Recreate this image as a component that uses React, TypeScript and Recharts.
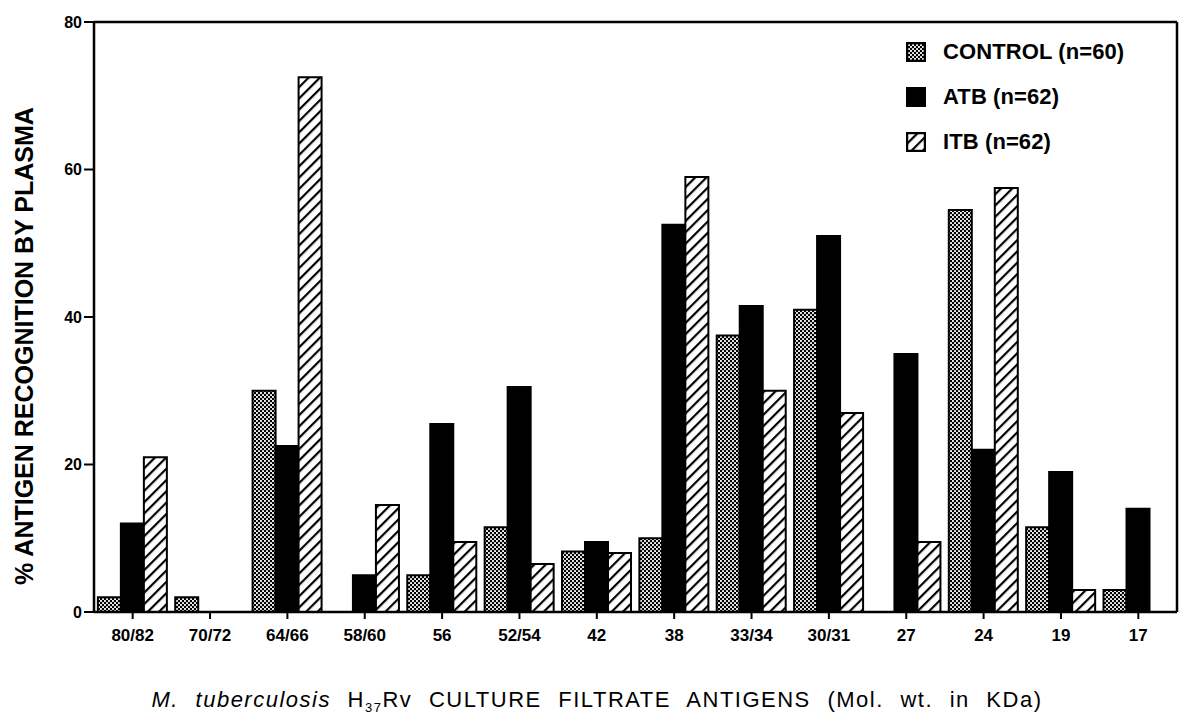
import { BarChart, Bar, XAxis, YAxis, ReferenceLine } from "recharts";

const antigens = ["80/82", "70/72", "64/66", "58/60", "56", "52/54", "42", "38", "33/34", "30/31", "27", "24", "19", "17"];
const controlVals = [2, 2, 30, 0, 5, 11.5, 8.2, 10, 37.5, 41, 0, 54.5, 11.5, 3];
const atbVals = [12, 0, 22.5, 5, 25.5, 30.5, 9.5, 52.5, 41.5, 51, 35, 22, 19, 14];
const itbVals = [21, 0, 72.5, 14.5, 9.5, 6.5, 8, 59, 30, 27, 9.5, 57.5, 3, 0];
const yTicks = [0, 20, 40, 60, 80];

const series = [
  { key: "control", name: "CONTROL (n=60)", fill: "url(#dots)" },
  { key: "atb", name: "ATB (n=62)", fill: "#000" },
  { key: "itb", name: "ITB (n=62)", fill: "url(#hatch)" },
];

const data = antigens.map((a, i) => ({
  antigen: a,
  control: controlVals[i],
  atb: atbVals[i],
  itb: itbVals[i],
}));

const FONT = "'Liberation Sans', Arial, sans-serif";

function LegendBox() {
  return (
    <div
      style={{
        position: "absolute",
        left: 906,
        top: 29,
        fontFamily: FONT,
        fontWeight: 700,
        fontSize: 22,
        letterSpacing: 0.1,
      }}
    >
      {series.map((s) => (
        <div key={s.key} style={{ display: "flex", alignItems: "center", height: 45 }}>
          <svg width={20} height={20} style={{ marginRight: 17 }}>
            <rect x={1} y={1} width={18} height={18} fill={s.fill} stroke="#000" strokeWidth={2.5} />
          </svg>
          <span>{s.name}</span>
        </div>
      ))}
    </div>
  );
}

export default function App() {
  return (
    <div style={{ position: "absolute", left: 0, top: 0, width: 1184, height: 714, background: "#fff" }}>
      <BarChart
        width={1184}
        height={714}
        data={data}
        margin={{ top: 22, right: 7, bottom: 72, left: 0 }}
        barCategoryGap="5%"
        barGap={0}
      >
        <defs>
          <pattern id="dots" patternUnits="userSpaceOnUse" width={4} height={4}>
            <rect width={4} height={4} fill="#000" />
            <circle cx={1} cy={1} r={1.05} fill="#fff" />
            <circle cx={3} cy={3} r={1.05} fill="#fff" />
          </pattern>
          <pattern id="hatch" patternUnits="userSpaceOnUse" width={8} height={8} patternTransform="rotate(45)">
            <rect width={8} height={8} fill="#fff" />
            <line x1={0} y1={0} x2={0} y2={8} stroke="#000" strokeWidth={4.4} />
          </pattern>
        </defs>
        <XAxis
          dataKey="antigen"
          axisLine={{ stroke: "#000", strokeWidth: 2.5 }}
          tickLine={{ stroke: "#000", strokeWidth: 2 }}
          tickSize={7}
          tick={{ fill: "#000", fontSize: 17, fontWeight: 700, fontFamily: FONT, dy: 8 }}
          interval={0}
          label={{
            content: () => (
              <text
                x={597}
                y={707}
                textAnchor="middle"
                fontFamily={FONT}
                fontSize={22}
                fill="#000"
                style={{ wordSpacing: 9, letterSpacing: 1.5 }}
              >
                <tspan fontStyle="italic">M. tuberculosis</tspan>
                <tspan> H</tspan>
                <tspan fontSize={13} dy={5}>37</tspan>
                <tspan dy={-5}>Rv CULTURE FILTRATE ANTIGENS (Mol. wt. in KDa)</tspan>
              </text>
            ),
          }}
        />
        <YAxis
          width={94}
          domain={[0, 80]}
          ticks={yTicks}
          axisLine={{ stroke: "#000", strokeWidth: 2.5 }}
          tickLine={{ stroke: "#000", strokeWidth: 2 }}
          tickSize={10}
          tick={{ fill: "#000", fontSize: 16, fontWeight: 700, fontFamily: FONT }}
          label={{
            content: () => (
              <text
                x={0}
                y={0}
                transform="translate(33 346) rotate(-90)"
                textAnchor="middle"
                fontFamily={FONT}
                fontWeight={700}
                fontSize={25}
                fill="#000"
              >
                % ANTIGEN RECOGNITION BY PLASMA
              </text>
            ),
          }}
        />
        <ReferenceLine y={80} stroke="#000" strokeWidth={2.5} ifOverflow="visible" />
        <ReferenceLine x="17" position="end" stroke="#000" strokeWidth={2.5} ifOverflow="visible" />
        {series.map((s) => (
          <Bar
            key={s.key}
            dataKey={s.key}
            name={s.name}
            fill={s.fill}
            stroke="#000"
            strokeWidth={2}
            isAnimationActive={false}
          />
        ))}
      </BarChart>
      <LegendBox />
    </div>
  );
}
